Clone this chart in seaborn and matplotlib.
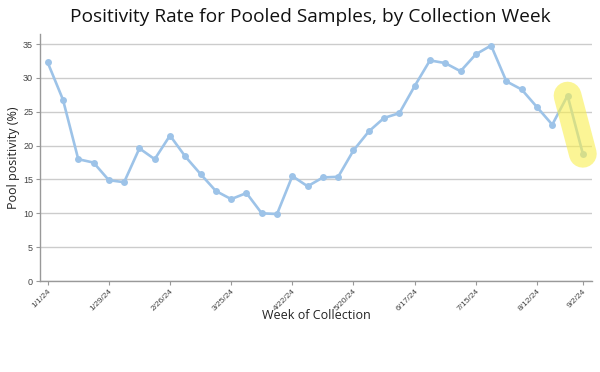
import pandas as pd
import matplotlib
matplotlib.use("Agg")
import matplotlib.pyplot as plt
import seaborn as sns

# Dados: semana de coleta e positividade (%)
semanas = ["1/1/24", "1/8/24", "1/15/24", "1/22/24", "1/29/24", "2/5/24",
           "2/12/24", "2/19/24", "2/26/24", "3/4/24", "3/11/24", "3/18/24",
           "3/25/24", "4/1/24", "4/8/24", "4/15/24", "4/22/24", "4/29/24",
           "5/6/24", "5/13/24", "5/20/24", "5/27/24", "6/3/24", "6/10/24",
           "6/17/24", "6/24/24", "7/1/24", "7/8/24", "7/15/24", "7/22/24",
           "7/29/24", "8/5/24", "8/12/24", "8/19/24", "8/26/24", "9/2/24"]
positividade = [32.3, 26.8, 18.0, 17.5, 14.9, 14.6,
                19.6, 18.0, 21.5, 18.4, 15.8, 13.3,
                12.1, 13.0, 10.0, 9.9, 15.5, 14.0,
                15.3, 15.4, 19.3, 22.1, 24.1, 24.8,
                28.8, 32.6, 32.2, 31.0, 33.5, 34.8,
                29.5, 28.3, 25.7, 23.1, 27.4, 18.8]
rotulos_x = ["1/1/24", "1/29/24", "2/26/24", "3/25/24", "4/22/24",
             "5/20/24", "6/17/24", "7/15/24", "8/12/24", "9/2/24"]
destaque = ["8/26/24", "9/2/24"]

df = pd.DataFrame({"Semana": semanas, "Positividade": positividade})
df["idx"] = range(len(df))

sns.set_style("white")
plt.rcParams["font.family"] = ["Open Sans", "DejaVu Sans"]

fig = plt.figure(figsize=(6, 3.72), dpi=100)
ax = fig.add_axes([0.0667, 0.2446, 0.92, 0.664])

sns.lineplot(data=df, x="idx", y="Positividade", ax=ax, color="#9dc3e8",
             linewidth=1.9, marker="o", markersize=5, markeredgewidth=0)

# Destaque amarelo nas duas últimas semanas
dd = df[df["Semana"].isin(destaque)]
ax.plot(dd["idx"], dd["Positividade"], color="#f9ef4f", alpha=0.6,
        linewidth=20, solid_capstyle="round", zorder=5, clip_on=False)

ax.set_xlim(-0.5, 35.6)
ax.set_ylim(0, 36.5)
ax.set_yticks(range(0, 36, 5))
pos = df[df["Semana"].isin(rotulos_x)]
ax.set_xticks(pos["idx"])
ax.set_xticklabels(pos["Semana"], rotation=45, ha="right", rotation_mode="anchor",
                   fontsize=6, color="#444444", family="Liberation Sans")
for t in ax.get_yticklabels():
    t.set_fontsize(6.5)
    t.set_color("#444444")
    t.set_family("Liberation Sans")

ax.grid(axis="y", color="#cccccc", linewidth=1)
ax.tick_params(axis="both", length=3, width=0.8, color="#999999", pad=2, bottom=True, left=True)
for s in ["top", "right"]:
    ax.spines[s].set_visible(False)
for s in ["left", "bottom"]:
    ax.spines[s].set_color("#999999")
    ax.spines[s].set_linewidth(1)

ax.set_xlabel("Week of Collection", fontsize=9, color="#222222", labelpad=-3)
ax.set_ylabel("Pool positivity (%)", fontsize=9, color="#222222")
ax.yaxis.set_label_coords(-0.036, 0.5)
fig.suptitle("Positivity Rate for Pooled Samples, by Collection Week",
             fontsize=13.8, color="#111111", y=0.978, x=0.5175)

fig.savefig("out.png", dpi=100)
